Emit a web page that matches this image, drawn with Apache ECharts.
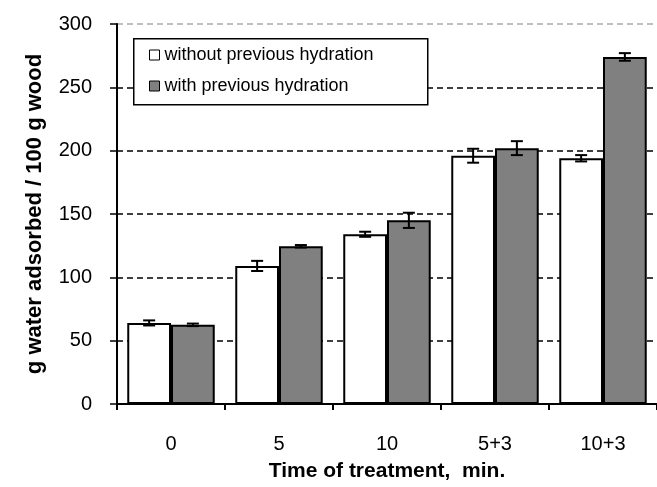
<!DOCTYPE html>
<html>
<head>
<meta charset="utf-8">
<script src="https://cdn.jsdelivr.net/npm/echarts@6/dist/echarts.min.js"></script>
<style>
  html, body { margin: 0; padding: 0; background: #fff; }
  #main { width: 657px; height: 487px; }
</style>
</head>
<body>
<div id="main"></div>
<script>
// data
var categories = ['0', '5', '10', '5+3', '10+3'];
var withoutHydration = [64, 109, 134, 196, 194];
var withHydration = [62.5, 124.5, 145, 202, 274];
var withoutErr = [2, 4, 2, 5.5, 2.5];
var withErr = [1, 1, 6, 5.5, 3];
var yTicks = [0, 50, 100, 150, 200, 250, 300];

var seriesNames = ['without previous hydration', 'with previous hydration'];

// error bar rows: [categoryIndex, low, high]
function errRows(vals, errs) {
    var rows = [];
    for (var i = 0; i < vals.length; i++) {
        rows.push([i, vals[i] - errs[i], vals[i] + errs[i]]);
    }
    return rows;
}

var barGapPct = 19;  // barCategoryGap
function errRenderer(side) {
    return function (params, api) {
        var band = api.size([1, 0])[0];
        var barW = band * (1 - barGapPct / 100) / 2;
        var off = side * barW / 2;
        var top = api.coord([api.value(0), api.value(2)]);
        var bot = api.coord([api.value(0), api.value(1)]);
        var cx = top[0] + off;
        var cap = 6;
        var st = { stroke: '#000', lineWidth: 2 };
        return {
            type: 'group',
            children: [
                { type: 'line', shape: { x1: cx, y1: top[1], x2: cx, y2: bot[1] }, style: st },
                { type: 'line', shape: { x1: cx - cap, y1: top[1], x2: cx + cap, y2: top[1] }, style: st },
                { type: 'line', shape: { x1: cx - cap, y1: bot[1], x2: cx + cap, y2: bot[1] }, style: st }
            ]
        };
    };
}

var myChart = echarts.init(document.getElementById('main'));
var option = {
    backgroundColor: '#fff',
    animation: false,
    textStyle: { fontFamily: 'Arial, "Liberation Sans", sans-serif' },
    grid: { left: 117, top: 24, width: 545, height: 380, containLabel: false },
    // legend frame (wider than the legend's own content box)
    graphic: [{
        type: 'rect',
        left: 133,
        top: 38,
        z: 3,
        shape: { width: 294, height: 66 },
        style: { fill: '#fff', stroke: '#000', lineWidth: 1.5 }
    }],
    legend: {
        orient: 'vertical',
        left: 133,
        top: 38,
        z: 5,
        padding: [8, 6, 8, 16],
        itemGap: 13,
        itemWidth: 10,
        itemHeight: 10,
        icon: 'rect',
        itemStyle: { borderColor: '#000', borderWidth: 1 },
        textStyle: { fontSize: 18, color: '#000' },
        data: seriesNames
    },
    xAxis: {
        type: 'category',
        data: categories,
        name: 'Time of treatment,  min.',
        nameLocation: 'middle',
        nameGap: 57,
        nameTextStyle: { fontSize: 21, fontWeight: 'bold', color: '#000' },
        axisLine: { lineStyle: { color: '#000', width: 2 } },
        axisTick: { show: true, length: 6, lineStyle: { color: '#000', width: 2 } },
        axisLabel: { fontSize: 20, color: '#000', margin: 30 },
        splitLine: { show: false }
    },
    yAxis: {
        type: 'value',
        min: 0,
        max: 300,
        interval: 50,
        name: 'g water adsorbed / 100 g wood',
        nameLocation: 'middle',
        nameGap: 71,
        nameTextStyle: { fontSize: 22, fontWeight: 'bold', color: '#000' },
        axisLine: { show: true, lineStyle: { color: '#000', width: 2 } },
        axisTick: { show: true, length: 7, lineStyle: { color: '#000', width: 1.5 } },
        axisLabel: { fontSize: 20, color: '#000', margin: 25 },
        splitLine: {
            show: true,
            lineStyle: {
                type: [6, 4],
                width: 1.5,
                color: yTicks.map(function (v) { return v === 300 ? '#aaa' : '#000'; })
            }
        }
    },
    series: [
        {
            name: seriesNames[0],
            type: 'bar',
            data: withoutHydration,
            barGap: '0%',
            barCategoryGap: barGapPct + '%',
            itemStyle: { color: '#fff', borderColor: '#000', borderWidth: 2 }
        },
        {
            name: seriesNames[1],
            type: 'bar',
            data: withHydration,
            barGap: '0%',
            barCategoryGap: barGapPct + '%',
            itemStyle: { color: '#808080', borderColor: '#000', borderWidth: 2 }
        },
        {
            type: 'custom',
            renderItem: errRenderer(-1),
            data: errRows(withoutHydration, withoutErr),
            encode: { x: 0, y: [1, 2] },
            z: 10,
            silent: true
        },
        {
            type: 'custom',
            renderItem: errRenderer(1),
            data: errRows(withHydration, withErr),
            encode: { x: 0, y: [1, 2] },
            z: 10,
            silent: true
        }
    ]
};
myChart.setOption(option);
</script>
</body>
</html>
